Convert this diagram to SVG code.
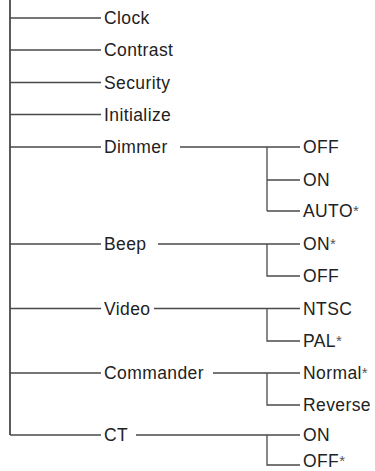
<svg xmlns="http://www.w3.org/2000/svg" width="375" height="471" viewBox="0 0 375 471">
<style>
.ln{stroke:#4a4a4a;stroke-width:1.3;fill:none}
.main{stroke:#4a4a4a;stroke-width:1.8;fill:none}
text{font-family:"Liberation Sans",Arial,sans-serif;font-size:17.5px;letter-spacing:0.4px;fill:#222}
.ast{font-size:15px;fill:#555}
</style>
<rect width="375" height="471" fill="#fff"/>
<g id="connectors">
<path class="main" d="M10,0V435"/>
<path class="ln" d="M10,18H101M10,50H101M10,82.5H101M10,114.5H101M10,147H101M10,244H101M10,308.5H101M10,373H101M10,435H101"/>
<path class="ln" d="M180,147H300M267,147V211M267,180H300M267,211H300"/>
<path class="ln" d="M158,244H300M267,244V276H300"/>
<path class="ln" d="M154,308.5H300M267,308.5V341H300"/>
<path class="ln" d="M213,373H300M267,373V405H300"/>
<path class="ln" d="M136,435H300M267,435V465H300"/>
</g>
<g id="clock"><text x="104" y="24">Clock</text></g>
<g id="contrast"><text x="104" y="56">Contrast</text></g>
<g id="security"><text x="104" y="88.5">Security</text></g>
<g id="initialize"><text x="104" y="120.5">Initialize</text></g>
<g id="dimmer"><text x="104" y="153">Dimmer</text></g>
<g id="dimmer-off"><text x="303" y="153">OFF</text></g>
<g id="dimmer-on"><text x="303" y="186">ON</text></g>
<g id="dimmer-auto"><text x="303" y="217">AUTO<tspan class="ast" dy="-1">*</tspan></text></g>
<g id="beep"><text x="104" y="250">Beep</text></g>
<g id="beep-on"><text x="303" y="250">ON<tspan class="ast" dy="-1">*</tspan></text></g>
<g id="beep-off"><text x="303" y="282">OFF</text></g>
<g id="video"><text x="104" y="314.5">Video</text></g>
<g id="video-ntsc"><text x="303" y="314.5">NTSC</text></g>
<g id="video-pal"><text x="303" y="347">PAL<tspan class="ast" dy="-1">*</tspan></text></g>
<g id="commander"><text x="104" y="379">Commander</text></g>
<g id="commander-normal"><text x="303" y="379">Normal<tspan class="ast" dy="-1">*</tspan></text></g>
<g id="commander-reverse"><text x="303" y="411">Reverse</text></g>
<g id="ct"><text x="104" y="441">CT</text></g>
<g id="ct-on"><text x="303" y="441">ON</text></g>
<g id="ct-off"><text x="303" y="466.5">OFF<tspan class="ast" dy="-1">*</tspan></text></g>
</svg>
